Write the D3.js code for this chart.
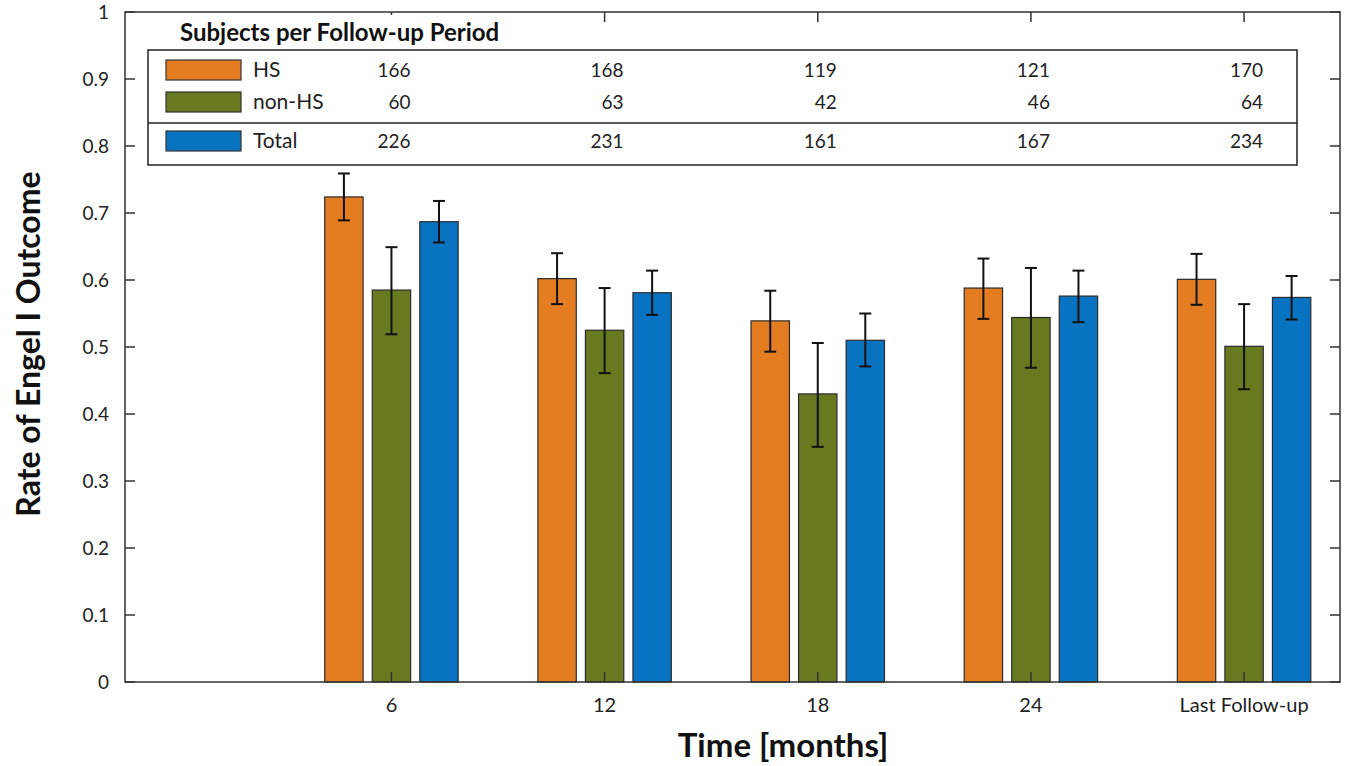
<!DOCTYPE html>
<html>
<head>
<meta charset="utf-8">
<script src="https://cdn.jsdelivr.net/npm/d3@7"></script>
<style>
	body { margin: 0; background: #fff; }
	text { font-family: Lato, "Open Sans", sans-serif; }
</style>
</head>
<body>
<svg id="fig" width="1360" height="766"></svg>
<script>

// data ---------------------------------------------------------------
var periods = ["6", "12", "18", "24", "Last Follow-up"],
	groups = ["HS", "non-HS", "Total"];

var hsRate    = [0.724, 0.602, 0.539, 0.588, 0.601],
	nonHsRate = [0.585, 0.525, 0.430, 0.544, 0.501],
	totalRate = [0.687, 0.581, 0.510, 0.576, 0.574];

var hsLow     = [0.689, 0.564, 0.493, 0.542, 0.563],
	hsHigh    = [0.759, 0.640, 0.584, 0.632, 0.639],
	nonHsLow  = [0.519, 0.461, 0.351, 0.469, 0.437],
	nonHsHigh = [0.649, 0.588, 0.506, 0.618, 0.564],
	totalLow  = [0.656, 0.548, 0.471, 0.537, 0.541],
	totalHigh = [0.718, 0.614, 0.550, 0.614, 0.606];

var hsN    = [166, 168, 119, 121, 170],
	nonHsN = [60, 63, 42, 46, 64],
	totalN = [226, 231, 161, 167, 234];

var yTicks = [0, 0.1, 0.2, 0.3, 0.4, 0.5, 0.6, 0.7, 0.8, 0.9, 1];

var cols = { "HS": "#e47d21", "non-HS": "#687a1f", "Total": "#0874c1" };

// setup --------------------------------------------------------------
var svg = d3.select("#fig"),
	m = [12, 20, 84, 125],  // top right bottom left
	width = 1360, height = 766;

var xScale = d3.scaleLinear()
	.domain([-0.25, 5.45])
	.range([m[3], width - m[1]]);

var yScale = d3.scaleLinear()
	.domain([0, 1])
	.range([height - m[2], m[0]]);

var barW = 0.18, barStep = 0.223;

var series = [
	{ key: "HS", rate: hsRate, lo: hsLow, hi: hsHigh, n: hsN, off: -1 },
	{ key: "non-HS", rate: nonHsRate, lo: nonHsLow, hi: nonHsHigh, n: nonHsN, off: 0 },
	{ key: "Total", rate: totalRate, lo: totalLow, hi: totalHigh, n: totalN, off: 1 }
];

var bars = [];
series.forEach(function(s) {
	periods.forEach(function(p, i) {
		bars.push({ key: s.key, pos: i + 1, off: s.off, v: s.rate[i], lo: s.lo[i], hi: s.hi[i] });
	});
});

// bars
svg.append("g")
	.selectAll("rect")
	.data(bars)
	.enter()
	.append("rect")
	.attr("x", d => xScale(d.pos + d.off * barStep - barW / 2))
	.attr("y", d => yScale(d.v))
	.attr("width", d => xScale(barW) - xScale(0))
	.attr("height", d => yScale(0) - yScale(d.v))
	.attr("fill", d => cols[d.key])
	.attr("stroke", "#2b2b2b")
	.attr("stroke-width", 1.2);

// error bars
var eb = svg.append("g")
	.attr("stroke", "#111")
	.attr("stroke-width", 2)
	.selectAll("g")
	.data(bars)
	.enter()
	.append("g");
eb.append("line")
	.attr("x1", d => xScale(d.pos + d.off * barStep))
	.attr("x2", d => xScale(d.pos + d.off * barStep))
	.attr("y1", d => yScale(d.lo))
	.attr("y2", d => yScale(d.hi));
eb.selectAll("line.cap")
	.data(d => [d.lo, d.hi].map(v => ({ x: xScale(d.pos + d.off * barStep), y: yScale(v) })))
	.enter()
	.append("line")
	.attr("class", "cap")
	.attr("x1", d => d.x - 6)
	.attr("x2", d => d.x + 6)
	.attr("y1", d => d.y)
	.attr("y2", d => d.y);

// axes box ------------------------------------------------------------
var x0 = xScale.range()[0], x1 = xScale.range()[1],
	y0 = yScale.range()[0], y1 = yScale.range()[1],
	tl = 10, axCol = "#333";

var ax = svg.append("g")
	.attr("stroke", axCol)
	.attr("stroke-width", 1.5);

// y ticks left & right (inward)
ax.selectAll("line.yl")
	.data(yTicks)
	.enter()
	.append("line")
	.attr("x1", x0).attr("x2", x0 + tl)
	.attr("y1", d => yScale(d)).attr("y2", d => yScale(d));
ax.selectAll("line.yr")
	.data(yTicks)
	.enter()
	.append("line")
	.attr("x1", x1).attr("x2", x1 - tl)
	.attr("y1", d => yScale(d)).attr("y2", d => yScale(d));

// x ticks bottom & top
ax.selectAll("line.xb")
	.data(periods)
	.enter()
	.append("line")
	.attr("x1", (d, i) => xScale(i + 1)).attr("x2", (d, i) => xScale(i + 1))
	.attr("y1", y0).attr("y2", y0 - tl);
ax.selectAll("line.xt")
	.data(periods)
	.enter()
	.append("line")
	.attr("x1", (d, i) => xScale(i + 1)).attr("x2", (d, i) => xScale(i + 1))
	.attr("y1", y1).attr("y2", y1 + tl);

ax.append("rect")
	.attr("x", x0).attr("y", y1)
	.attr("width", x1 - x0).attr("height", y0 - y1)
	.attr("fill", "none");

// tick labels
svg.append("g")
	.selectAll("text")
	.data(yTicks)
	.enter()
	.append("text")
	.attr("x", x0 - 16)
	.attr("y", d => yScale(d))
	.attr("dy", "0.35em")
	.attr("text-anchor", "end")
	.attr("font-size", 19)
	.attr("fill", "#222")
	.text(d => d3.format("~g")(d));

svg.append("g")
	.selectAll("text")
	.data(periods)
	.enter()
	.append("text")
	.attr("x", (d, i) => xScale(i + 1))
	.attr("y", y0 + 30)
	.attr("text-anchor", "middle")
	.attr("font-size", 20)
	.attr("fill", "#222")
	.text(d => d);

// axis titles
svg.append("text")
	.attr("x", 783)
	.attr("y", 757)
	.attr("text-anchor", "middle")
	.attr("font-size", 33)
	.attr("font-weight", "bold")
	.attr("fill", "#111")
	.text("Time [months]");

svg.append("text")
	.attr("transform", `translate(40, 344) rotate(-90)`)
	.attr("text-anchor", "middle")
	.attr("font-size", 32)
	.attr("font-weight", "bold")
	.attr("fill", "#111")
	.text("Rate of Engel I Outcome");

// table legend ------------------------------------------------------
var lg = svg.append("g");

lg.append("rect")
	.attr("x", 148).attr("y", 15)
	.attr("width", 420).attr("height", 34)
	.attr("fill", "#fff");

lg.append("text")
	.attr("x", 180).attr("y", 41)
	.attr("font-size", 24)
	.attr("font-weight", "bold")
	.attr("fill", "#111")
	.text("Subjects per Follow-up Period");

lg.append("rect")
	.attr("x", 148).attr("y", 50)
	.attr("width", 1149).attr("height", 115)
	.attr("fill", "#fff")
	.attr("stroke", "#222")
	.attr("stroke-width", 1.5);

lg.append("line")
	.attr("x1", 148).attr("x2", 1297)
	.attr("y1", 123).attr("y2", 123)
	.attr("stroke", "#222")
	.attr("stroke-width", 1.5);

var rowY = [70, 102, 141];

var rows = lg.selectAll("g.row")
	.data(series)
	.enter()
	.append("g")
	.attr("transform", (d, i) => `translate(0, ${rowY[i]})`);

rows.append("rect")
	.attr("x", 166).attr("y", -10)
	.attr("width", 75).attr("height", 20)
	.attr("fill", d => cols[d.key])
	.attr("stroke", "#333")
	.attr("stroke-width", 1.2);

rows.append("text")
	.attr("x", 253).attr("y", 0)
	.attr("dy", "0.35em")
	.attr("font-size", 21)
	.attr("fill", "#222")
	.text(d => d.key);

rows.selectAll("text.n")
	.data(d => d.n)
	.enter()
	.append("text")
	.attr("class", "n")
	.attr("x", (d, i) => xScale(i + 1) + 19)
	.attr("y", 0)
	.attr("dy", "0.35em")
	.attr("text-anchor", "end")
	.attr("font-size", 19)
	.attr("fill", "#222")
	.text(d => d);

</script>
</body>
</html>
